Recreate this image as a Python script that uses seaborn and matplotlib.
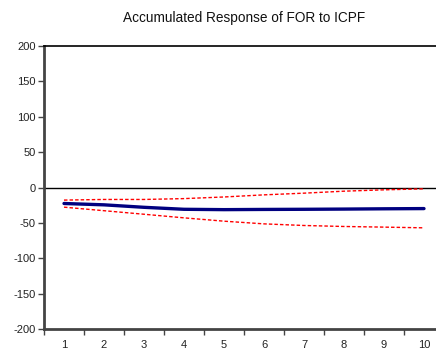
import matplotlib
matplotlib.use("Agg")
import matplotlib.pyplot as plt
import seaborn as sns
import pandas as pd
import numpy as np

periods = [1, 2, 3, 4, 5, 6, 7, 8, 9, 10]
response = [-22.6, -24.5, -28.0, -30.8, -31.3, -31.0, -30.8, -30.5, -30.1, -29.8]
upper = [-17.8, -16.9, -16.9, -15.7, -13.4, -10.4, -8.0, -5.2, -3.3, -1.9]
lower = [-27.8, -32.8, -37.8, -42.9, -47.6, -51.4, -53.7, -55.1, -56.0, -57.0]
yticks = [-200, -150, -100, -50, 0, 50, 100, 150, 200]
title = "Accumulated Response of FOR to ICPF"

sns.set_style("white")
plt.rcParams['font.family'] = ['Liberation Sans', 'DejaVu Sans']

df = pd.DataFrame({"period": periods, "response": response, "upper": upper, "lower": lower})

fig = plt.figure(figsize=(4.36, 3.51), dpi=100)
ax = fig.add_axes([44/436, 1-329/351, 400/436, (329-46)/351])

ax.axhline(0, color="black", lw=1.0, zorder=1)
sns.lineplot(data=df, x="period", y="upper", ax=ax, color="#FF0000", lw=1.0, zorder=2)
sns.lineplot(data=df, x="period", y="lower", ax=ax, color="#FF0000", lw=1.0, zorder=2)
for ln in ax.lines[1:]:
    ln.set_linestyle((0, (2.5, 1.5)))
sns.lineplot(data=df, x="period", y="response", ax=ax, color="#000080", lw=2.4, zorder=3)

ax.set_xlim(0.5, 10.5)
ax.set_ylim(-200, 200)
ax.set_yticks(yticks)
ax.set_yticklabels([str(v) for v in yticks], fontsize=8)
ax.set_xticks(periods)
ax.set_xticklabels([str(p) for p in periods], fontsize=8)
ax.set_xticks([p - 0.5 for p in periods], minor=True)
ax.tick_params(axis="x", which="major", length=0, pad=8, colors="#222222")
ax.tick_params(axis="x", which="minor", length=4, width=1, direction="out", color="#444444", bottom=True)
ax.tick_params(axis="y", which="major", length=4, width=1, direction="out", color="#444444", left=True, pad=2, colors="#222222")
ax.tick_params(axis="y", colors="#222222", color="#444444")
ax.set_xlabel("")
ax.set_ylabel("")

for s in ["left", "bottom"]:
    ax.spines[s].set_color("#444444")
    ax.spines[s].set_linewidth(2)
ax.spines["top"].set_color("black")
ax.spines["top"].set_linewidth(1.2)
ax.spines["right"].set_visible(False)

fig.text((44 + 444) / 2 / 436, 1 - 18/351, title, ha="center", va="center", fontsize=9.8, color="#111111")

fig.savefig("out.png", dpi=100)
